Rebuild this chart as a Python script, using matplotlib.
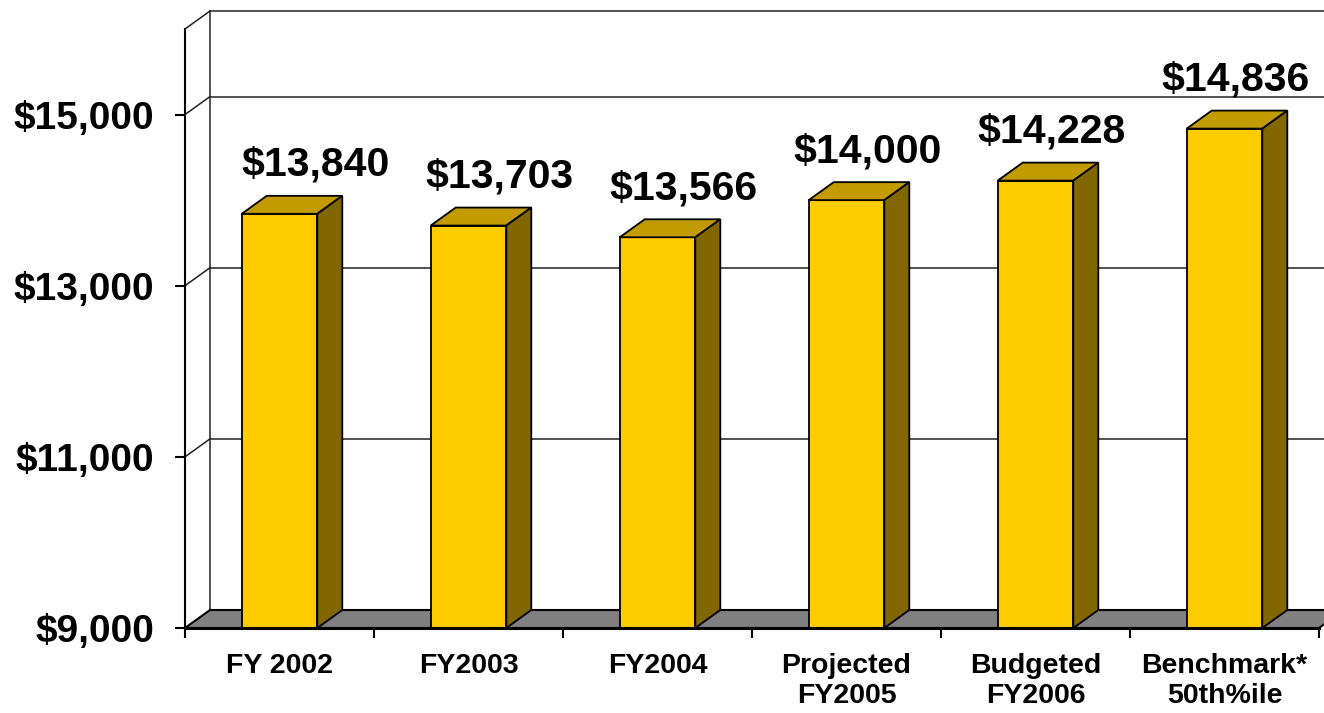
import numpy as np
import matplotlib.pyplot as plt
from matplotlib.patches import Polygon

plt.rcParams['font.family'] = ['Liberation Sans', 'DejaVu Sans']
plt.rcParams['font.weight'] = 'bold'

categories = ['FY 2002', 'FY2003', 'FY2004', 'Projected\nFY2005', 'Budgeted\nFY2006', 'Benchmark*\n50th%ile']
values = [13840, 13703, 13566, 14000, 14228, 14836]
yticks = [9000, 11000, 13000, 15000]
ymin, ymax = 9000, 16000

FRONT = '#FFCC00'
TOP = '#C29B00'
SIDE = '#826600'
FLOOR = '#808080'

W, H = 1324, 713
fig = plt.figure(figsize=(W / 100, H / 100), dpi=100)
# front plane of the 3d box, in pixels: x 185..1319, y 628..29
ax = fig.add_axes([185 / W, (H - 628) / H, 1134 / W, 599 / H])
ax.set_xlim(0, len(categories))
ax.set_ylim(ymin, ymax)

# depth of the box, converted from pixels into data units
px_x = len(categories) / 1134
px_y = (ymax - ymin) / 599
DX = 25 * px_x
DY = 18 * px_y
n = len(categories)

line_kw = dict(color='#222222', lw=1.1, clip_on=False, zorder=1)
# back wall gridlines + diagonals on the left wall
for y in yticks[1:] + [ymax]:
    ax.plot([DX, n + DX + 1], [y + DY, y + DY], **line_kw)
    ax.plot([0, DX], [y, y + DY], **line_kw)
ax.plot([DX, DX], [ymin + DY, ymax + DY], **line_kw)

# floor
floor = Polygon([(0, ymin), (n, ymin), (n + DX, ymin + DY), (DX, ymin + DY)],
                closed=True, facecolor=FLOOR, edgecolor='black', lw=1.5,
                clip_on=False, zorder=2)
ax.add_patch(floor)

bw = 0.4
for i, v in enumerate(values):
    x0 = i + 0.5 - bw / 2
    x1 = x0 + bw
    pk = dict(edgecolor='black', lw=1.3, clip_on=False, zorder=3, joinstyle='miter')
    ax.add_patch(Polygon([(x0, ymin), (x1, ymin), (x1, v), (x0, v)], facecolor=FRONT, **pk))
    ax.add_patch(Polygon([(x0, v), (x1, v), (x1 + DX, v + DY), (x0 + DX, v + DY)], facecolor=TOP, **pk))
    ax.add_patch(Polygon([(x1, ymin), (x1 + DX, ymin + DY), (x1 + DX, v + DY), (x1, v)], facecolor=SIDE, **pk))
    ax.annotate('${:,}'.format(v), xy=(i + 0.5, v), xytext=((36 - 5 * i) / 1.389, 38 / 1.389),
                textcoords='offset points', ha='center', va='baseline',
                fontsize=29.5, fontweight='bold', zorder=5, annotation_clip=False)

# axes / ticks
for s in ['top', 'right']:
    ax.spines[s].set_visible(False)
ax.spines['left'].set_linewidth(1.5)
ax.spines['bottom'].set_linewidth(2.2)
ax.spines['left'].set_zorder(4)
ax.spines['bottom'].set_zorder(4)

ax.set_yticks(yticks)
ax.set_yticklabels(['${:,}'.format(t) for t in yticks], fontsize=28, fontweight='bold')
ax.tick_params(axis='y', length=7.2, width=1.5, pad=15, direction='out')

ax.set_xticks(np.arange(n + 1))
ax.set_xticklabels([])
ax.tick_params(axis='x', which='major', length=7.2, width=1.5, direction='out')
ax.set_xticks(np.arange(n) + 0.5, minor=True)
ax.set_xticklabels(categories, minor=True, fontsize=20.5, fontweight='bold', linespacing=1.2)
ax.tick_params(axis='x', which='minor', length=0, pad=18)

ax.set_facecolor('none')
fig.savefig('out.png', dpi=100)
